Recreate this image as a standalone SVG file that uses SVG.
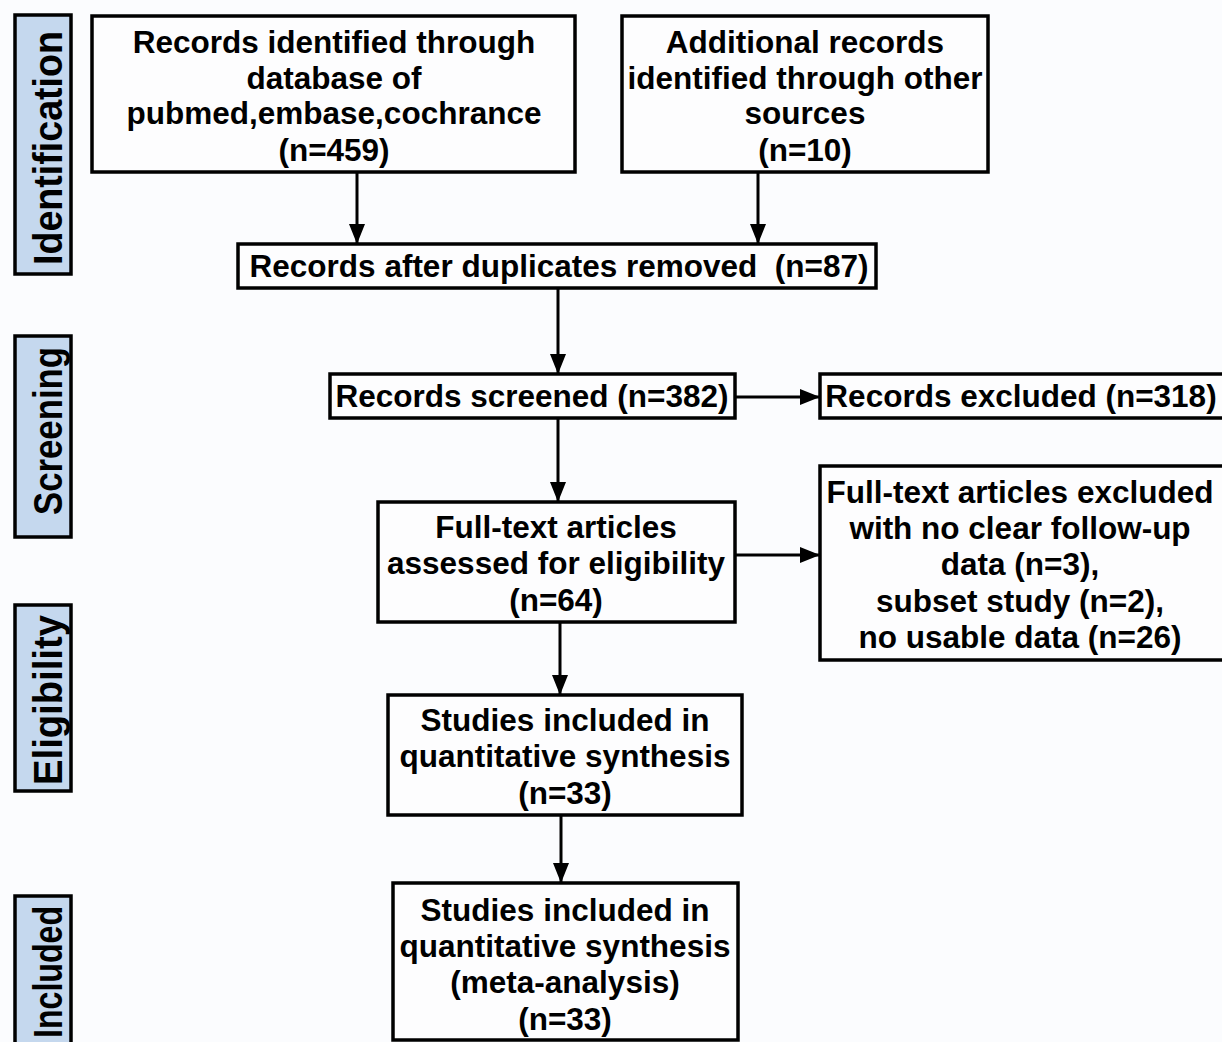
<svg xmlns="http://www.w3.org/2000/svg" width="1222" height="1042" viewBox="0 0 1222 1042">
<defs>
<style>
.bg{fill:#fbfcfe}
.box{fill:#fdfdfe;stroke:#000;stroke-width:3.5}
.side{fill:#c5d8ee;stroke:#000;stroke-width:3.5}
.t{font-family:"Liberation Sans",Arial,sans-serif;font-weight:bold;font-size:31.5px;fill:#000;text-anchor:middle}
.s{font-family:"Liberation Sans",Arial,sans-serif;font-weight:bold;font-size:41px;fill:#000;text-anchor:middle}
.c{stroke:#000;stroke-width:3;fill:none}
</style>
<marker id="ahb" viewBox="0 0 20 16" refX="20" refY="8" markerWidth="20" markerHeight="16" orient="auto" markerUnits="userSpaceOnUse">
<path d="M0,0 L20,8 L0,16 z" fill="#000"/>
</marker>
</defs>
<rect class="bg" x="0" y="0" width="1222" height="1042"/>

<g id="side-identification">
<rect class="side" x="15" y="15" width="56" height="259"/>
<text class="s" transform="translate(62,148) rotate(-90)" textLength="234" lengthAdjust="spacingAndGlyphs">Identification</text>
</g>
<g id="side-screening">
<rect class="side" x="15" y="336" width="56" height="201"/>
<text class="s" transform="translate(62,431) rotate(-90)" textLength="168" lengthAdjust="spacingAndGlyphs">Screening</text>
</g>
<g id="side-eligibility">
<rect class="side" x="15" y="605" width="56" height="186"/>
<text class="s" transform="translate(62,700) rotate(-90)" textLength="170" lengthAdjust="spacingAndGlyphs">Eligibility</text>
</g>
<g id="side-included">
<rect class="side" x="15" y="896" width="56" height="160"/>
<text class="s" transform="translate(62,972) rotate(-90)" textLength="132" lengthAdjust="spacingAndGlyphs">Included</text>
</g>

<g id="connectors">
<line class="c" x1="357" y1="172" x2="357" y2="244" marker-end="url(#ahb)"/>
<line class="c" x1="758" y1="172" x2="758" y2="244" marker-end="url(#ahb)"/>
<line class="c" x1="558" y1="288" x2="558" y2="374" marker-end="url(#ahb)"/>
<line class="c" x1="558" y1="418" x2="558" y2="502" marker-end="url(#ahb)"/>
<line class="c" x1="560" y1="622" x2="560" y2="695" marker-end="url(#ahb)"/>
<line class="c" x1="561" y1="815" x2="561" y2="883" marker-end="url(#ahb)"/>
<line class="c" x1="735" y1="397" x2="820" y2="397" marker-end="url(#ahb)"/>
<line class="c" x1="735" y1="555" x2="820" y2="555" marker-end="url(#ahb)"/>
</g>

<g id="n-identified">
<rect class="box" x="92" y="16" width="483" height="156"/>
<text class="t" x="334" y="53">Records identified through</text>
<text class="t" x="334" y="89">database of</text>
<text class="t" x="334" y="124">pubmed,embase,cochrance</text>
<text class="t" x="334" y="161">(n=459)</text>
</g>
<g id="n-additional">
<rect class="box" x="622" y="16" width="366" height="156"/>
<text class="t" x="805" y="53">Additional records</text>
<text class="t" x="805" y="89">identified through other</text>
<text class="t" x="805" y="124">sources</text>
<text class="t" x="805" y="161">(n=10)</text>
</g>
<g id="n-duplicates">
<rect class="box" x="238" y="244" width="638" height="44"/>
<text class="t" x="559" y="277" xml:space="preserve">Records after duplicates removed  (n=87)</text>
</g>
<g id="n-screened">
<rect class="box" x="330" y="374" width="405" height="44"/>
<text class="t" x="532" y="407">Records screened (n=382)</text>
</g>
<g id="n-excluded">
<rect class="box" x="820" y="374" width="404" height="44"/>
<text class="t" x="1021" y="407">Records excluded (n=318)</text>
</g>
<g id="n-fulltext">
<rect class="box" x="378" y="502" width="357" height="120"/>
<text class="t" x="556" y="538">Full-text articles</text>
<text class="t" x="556" y="574">assessed for eligibility</text>
<text class="t" x="556" y="611">(n=64)</text>
</g>
<g id="n-ft-excluded">
<rect class="box" x="820" y="466" width="404" height="194"/>
<text class="t" x="1020" y="503">Full-text articles excluded</text>
<text class="t" x="1020" y="539">with no clear follow-up</text>
<text class="t" x="1020" y="575">data (n=3),</text>
<text class="t" x="1020" y="612">subset study (n=2),</text>
<text class="t" x="1020" y="648">no usable data (n=26)</text>
</g>
<g id="n-studies">
<rect class="box" x="388" y="695" width="354" height="120"/>
<text class="t" x="565" y="731">Studies included in</text>
<text class="t" x="565" y="767">quantitative synthesis</text>
<text class="t" x="565" y="804">(n=33)</text>
</g>
<g id="n-meta">
<rect class="box" x="393" y="883" width="345" height="157"/>
<text class="t" x="565" y="921">Studies included in</text>
<text class="t" x="565" y="957">quantitative synthesis</text>
<text class="t" x="565" y="993">(meta-analysis)</text>
<text class="t" x="565" y="1030">(n=33)</text>
</g>
</svg>
